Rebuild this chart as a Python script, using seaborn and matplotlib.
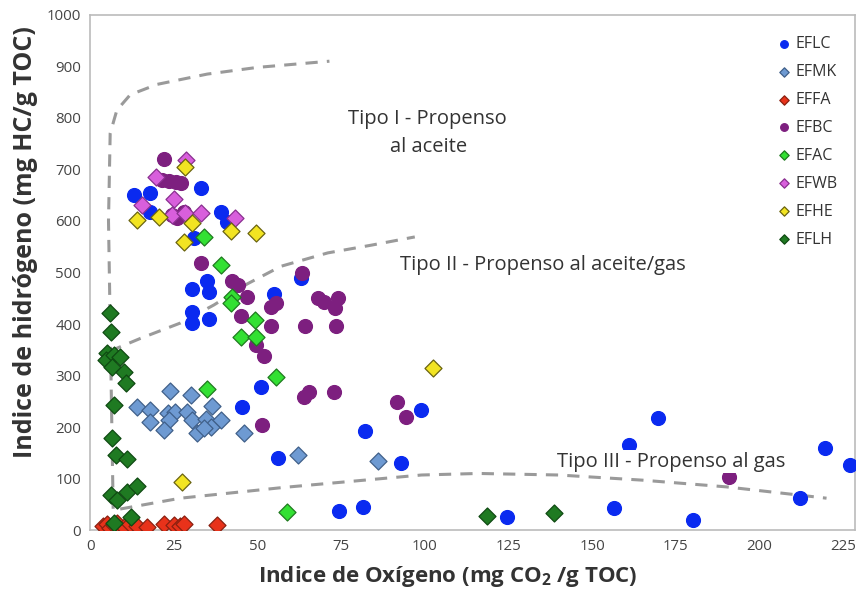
import pandas as pd
import matplotlib.pyplot as plt
import seaborn as sns

# Sample groups (Oxygen index, Hydrogen index)
eflc_oi = [13, 18, 33, 18, 39, 41, 31, 30.5, 35, 35.6, 30.5, 30.5, 35.6, 55, 63, 51, 45.5,
           99, 82, 93, 74.5, 81.5, 124.5, 56, 169.7, 161, 219.6, 227, 212, 156.5, 180]
eflc_hi = [650, 654, 664, 617, 617, 598, 567, 468, 483, 462, 423, 402, 410, 458, 489, 278, 239,
           233, 193, 130, 37, 45, 25, 140, 217, 165, 160, 126, 62, 43, 19]

efmk_oi = [24, 30, 14, 18, 18, 23.3, 25.4, 29, 36.5, 23.6, 22, 30.5, 34.7, 39, 36, 32, 46, 34, 62, 86]
efmk_hi = [270, 262, 239, 233, 210, 227, 229, 229, 241, 214, 194, 214, 216, 214, 200, 188, 188, 198, 146, 134]

effa_oi = [4, 5, 6, 7, 8, 10, 12, 14, 17, 22, 25, 27, 28, 38]
effa_hi = [8, 12, 5, 10, 14, 7, 12, 9, 6, 12, 10, 8, 12, 10]

efbc_oi = [22, 21.6, 23.7, 25.8, 27.2, 24.5, 26, 28, 33, 42.5, 44.3, 47, 45, 54, 55.4, 54, 63.4,
           64.3, 68, 70, 74, 73.3, 73.6, 49.6, 52, 64, 65.5, 73, 91.6, 94.3, 51.5, 191]
efbc_hi = [720, 679, 677, 676, 674, 612, 606, 617, 518, 484, 476, 452, 415, 396, 441, 433, 499,
           396, 450, 443, 451, 431, 396, 359, 338, 258, 268, 268, 249, 219, 204, 103]

efac_oi = [34, 39, 42.5, 42, 49.4, 45, 49.7, 55.4, 35, 58.7]
efac_hi = [569, 515, 452, 441, 408, 375, 375, 297, 274, 35]

efwb_oi = [19.7, 25, 15.6, 24.5, 28.4, 33, 43.4, 28.7]
efwb_hi = [685, 643, 631, 612, 615, 615, 606, 718]

efhe_oi = [28.4, 14, 20.6, 30.5, 28, 42, 49.7, 27.5, 102.3]
efhe_hi = [705, 602, 608, 596, 559, 581, 577, 94, 315]

eflh_oi = [6, 6.3, 5, 4.8, 7, 9, 6.6, 10, 10.8, 7, 6.6, 7.8, 11, 6.3, 8, 11, 14, 7, 12.3, 118.5, 138.5]
eflh_hi = [421, 385, 343, 330, 340, 336, 316, 307, 285, 243, 179, 146, 138, 68, 58, 74, 85, 14, 25, 27, 33]

# Kerogen type boundaries
tipo1_oi = [7, 6.5, 6, 5.5, 6, 8, 12, 20, 35, 50, 71.5]
tipo1_hi = [0, 200, 400, 600, 770, 815, 845, 865, 885, 898, 910]
tipo2_oi = [6, 8, 15, 27, 37, 47, 57, 71, 84, 97]
tipo2_hi = [345, 353, 372, 402, 437, 478, 512, 538, 553, 569]
tipo3_oi = [9, 27, 58, 99, 116, 140, 165, 190, 220]
tipo3_hi = [41, 62, 83, 107, 110, 107, 97, 84, 62]

groups = [
    ("EFLC", eflc_oi, eflc_hi, "o", "#0a2af0", "#0a2af0"),
    ("EFMK", efmk_oi, efmk_hi, "D", "#6e9ad2", "#40608a"),
    ("EFFA", effa_oi, effa_hi, "D", "#e8321a", "#8a2010"),
    ("EFBC", efbc_oi, efbc_hi, "o", "#7d1f7f", "#7d1f7f"),
    ("EFAC", efac_oi, efac_hi, "D", "#33e033", "#1f7a1f"),
    ("EFWB", efwb_oi, efwb_hi, "D", "#d85fdc", "#8a3090"),
    ("EFHE", efhe_oi, efhe_hi, "D", "#f2e422", "#6a6410"),
    ("EFLH", eflh_oi, eflh_hi, "D", "#1f7a22", "#0f4a12"),
]

sns.set_style("white")
plt.rcParams['font.family'] = ['Open Sans', 'DejaVu Sans']

fig = plt.figure(figsize=(8.58, 5.93), dpi=100)
ax = fig.add_axes([0.105, 0.106, 0.8915, 0.869])

# dashed boundary curves
for bx, by in [(tipo1_oi, tipo1_hi), (tipo2_oi, tipo2_hi), (tipo3_oi, tipo3_hi)]:
    line_df = pd.DataFrame({"oi": bx, "hi": by})
    sns.lineplot(data=line_df, x="oi", y="hi", sort=False, estimator=None, ax=ax,
                 color="#9a9a9a", linewidth=2.2, linestyle=(0, (4, 3)), zorder=1)

for name, gx, gy, mk, fc, ec in groups:
    df = pd.DataFrame({"oi": gx, "hi": gy})
    sns.scatterplot(data=df, x="oi", y="hi", marker=mk, s=100 if mk == "o" else 75,
                    color=fc, edgecolor=ec, linewidth=0.9, ax=ax, label=name, zorder=3)

ax.set_xlim(0, 228.5)
ax.set_ylim(0, 1000)
ax.set_xticks(range(0, 226, 25))
ax.set_yticks(range(0, 1001, 100))
ax.tick_params(axis="both", labelsize=10.8, colors="#444444", length=3, width=0.8)
for sp in ax.spines.values():
    sp.set_color("#bbbbbb")
    sp.set_linewidth(1.2)

ax.set_xlabel("Indice de Oxígeno (mg CO$_\\mathregular{2}$ /g TOC)", fontsize=16,
              fontweight="bold", color="#333333")
ax.xaxis.set_label_coords(0.467, -0.066)
ax.set_ylabel("Indice de hidrógeno (mg HC/g TOC)", fontsize=18,
              fontweight="bold", color="#333333")
ax.yaxis.set_label_coords(-0.068, 0.56)

ax.text(77, 797, "Tipo I - Propenso", fontsize=14.5, color="#333333", ha="left", va="center")
ax.text(89.5, 743, "al aceite", fontsize=14.5, color="#333333", ha="left", va="center")
ax.text(92.5, 515, "Tipo II - Propenso al aceite/gas", fontsize=14.5, color="#333333",
        ha="left", va="center")
ax.text(139.5, 133, "Tipo III - Propenso al gas", fontsize=14.5, color="#333333",
        ha="left", va="center", zorder=4,
        bbox=dict(facecolor="white", edgecolor="none", pad=1))

leg = ax.legend(loc="upper right", bbox_to_anchor=(0.99, 0.978), frameon=False,
                fontsize=11.5, markerscale=0.55, handletextpad=-0.3, labelspacing=0.75,
                borderaxespad=0.2)
for t in leg.get_texts():
    t.set_color("#333333")

fig.savefig("out.png", dpi=100)
